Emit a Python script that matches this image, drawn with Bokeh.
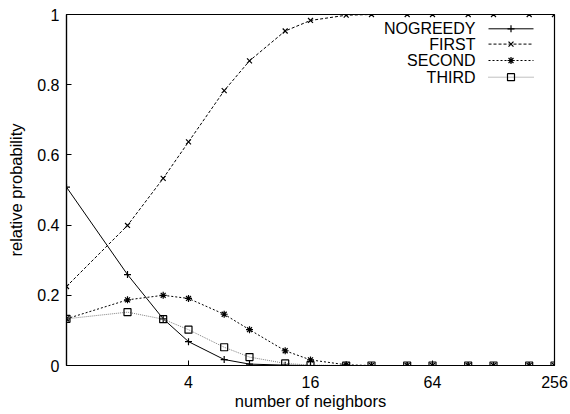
from bokeh.plotting import figure
from bokeh.models import FixedTicker, NumeralTickFormatter, Range1d
from bokeh.core.properties import value
from bokeh.embed import file_html
from bokeh.resources import INLINE

# ---- data ----
neighbors = [1, 2, 3, 4, 6, 8, 12, 16, 24, 32, 48, 64, 96, 128, 192, 256]
nogreedy = [0.508, 0.259, 0.133, 0.068, 0.017, 0.004, 0.001, 0.0, 0.0, 0.0, 0.0, 0.0, 0.0, 0.0, 0.0, 0.0]
first = [0.225, 0.399, 0.533, 0.637, 0.783, 0.868, 0.953, 0.983, 0.998, 1.0, 1.0, 1.0, 1.0, 1.0, 1.0, 1.0]
second = [0.133, 0.187, 0.200, 0.191, 0.146, 0.102, 0.042, 0.016, 0.002, 0.0, 0.0, 0.0, 0.0, 0.0, 0.0, 0.0]
third = [0.133, 0.152, 0.132, 0.102, 0.052, 0.024, 0.006, 0.001, 0.0, 0.0, 0.0, 0.0, 0.0, 0.0, 0.0, 0.0]
series_names = ["NOGREEDY", "FIRST", "SECOND", "THIRD"]
x_ticks = [4, 16, 64, 256]
y_ticks = [0, 0.2, 0.4, 0.6, 0.8, 1]

FONT = "Liberation Sans"
W, H = 570, 414
BL, BR, BT, BB = 66, 16, 14, 49

p = figure(width=W, height=H, x_axis_type="log",
           x_range=Range1d(1, 256), y_range=Range1d(0, 1),
           output_backend="svg", toolbar_location=None,
           min_border_left=BL, min_border_right=BR,
           min_border_top=BT, min_border_bottom=BB)
p.grid.visible = False
p.outline_line_color = "black"
p.outline_line_width = 1.2
p.background_fill_color = "white"
p.border_fill_color = "white"

for ax in (p.xaxis[0], p.yaxis[0]):
    ax.major_tick_in = 5
    ax.major_tick_out = 0
    ax.minor_tick_in = 0
    ax.minor_tick_out = 0
    ax.axis_line_color = "black"
    ax.axis_line_width = 1.2
    ax.major_tick_line_color = "black"
    ax.major_label_text_font = FONT
    ax.major_label_text_font_size = "16px"
    ax.major_label_text_color = "black"
    ax.axis_label_text_font = FONT
    ax.axis_label_text_font_size = "16.5px"
    ax.axis_label_text_font_style = "normal"
    ax.axis_label_text_color = "black"

p.xaxis.ticker = FixedTicker(ticks=x_ticks)
p.xaxis.formatter = NumeralTickFormatter(format="0")
p.xaxis.axis_label = "number of neighbors"
p.xaxis.major_label_standoff = 10
p.xaxis.axis_label_standoff = 1

p.yaxis.ticker = FixedTicker(ticks=y_ticks)
p.yaxis.formatter = NumeralTickFormatter(format="0.[0]")
p.yaxis.axis_label = "relative probability"
p.yaxis.major_label_standoff = 7
p.yaxis.axis_label_standoff = 9

styles = [
    dict(color="black", dash="solid", marker="cross", mcolor="black"),
    dict(color="black", dash="3 2", marker="x", mcolor="black"),
    dict(color="black", dash="2 2", marker="asterisk", mcolor="black"),
    dict(color="#808080", dash="1 1", marker="square", mcolor="black"),
]
all_series = [nogreedy, first, second, third]

for ys, st in zip(all_series, styles):
    p.line(neighbors, ys, line_color=st["color"], line_dash=st["dash"], line_width=1)
    p.scatter(neighbors, ys, marker=st["marker"], size=7, line_color=st["mcolor"],
              fill_color=None, line_width=1.2)

# ---- legend (text right-aligned, sample on the right), placed via frame pixels ----
frame_left = float(BL)
px_per_doubling = (W - BL - BR) / 8.0
frame_top = float(BT)
frame_h = H - BT - BB
def px_to_x(px):
    return 2 ** ((px - frame_left) / px_per_doubling)
def py_to_y(py):
    return 1.0 - (py - frame_top) / frame_h

text_x = px_to_x(475)
l0 = px_to_x(488)
l1 = px_to_x(533)
mx = px_to_x(510.5)
row_py = [28.3, 43.6, 60.0, 76.7]
for name, st, py in zip(series_names, styles, row_py):
    yy = py_to_y(py)
    p.text(x=[text_x], y=[yy], text=[name], text_align="right", text_baseline="middle",
           text_font=value(FONT), text_font_size="16px", text_color="black")
    p.line([l0, l1], [yy, yy], line_color=st["color"], line_dash=st["dash"], line_width=1)
    p.scatter([mx], [yy], marker=st["marker"], size=7, line_color=st["mcolor"],
              fill_color=None, line_width=1.2)

open("out.html", "w").write(file_html(p, INLINE))
